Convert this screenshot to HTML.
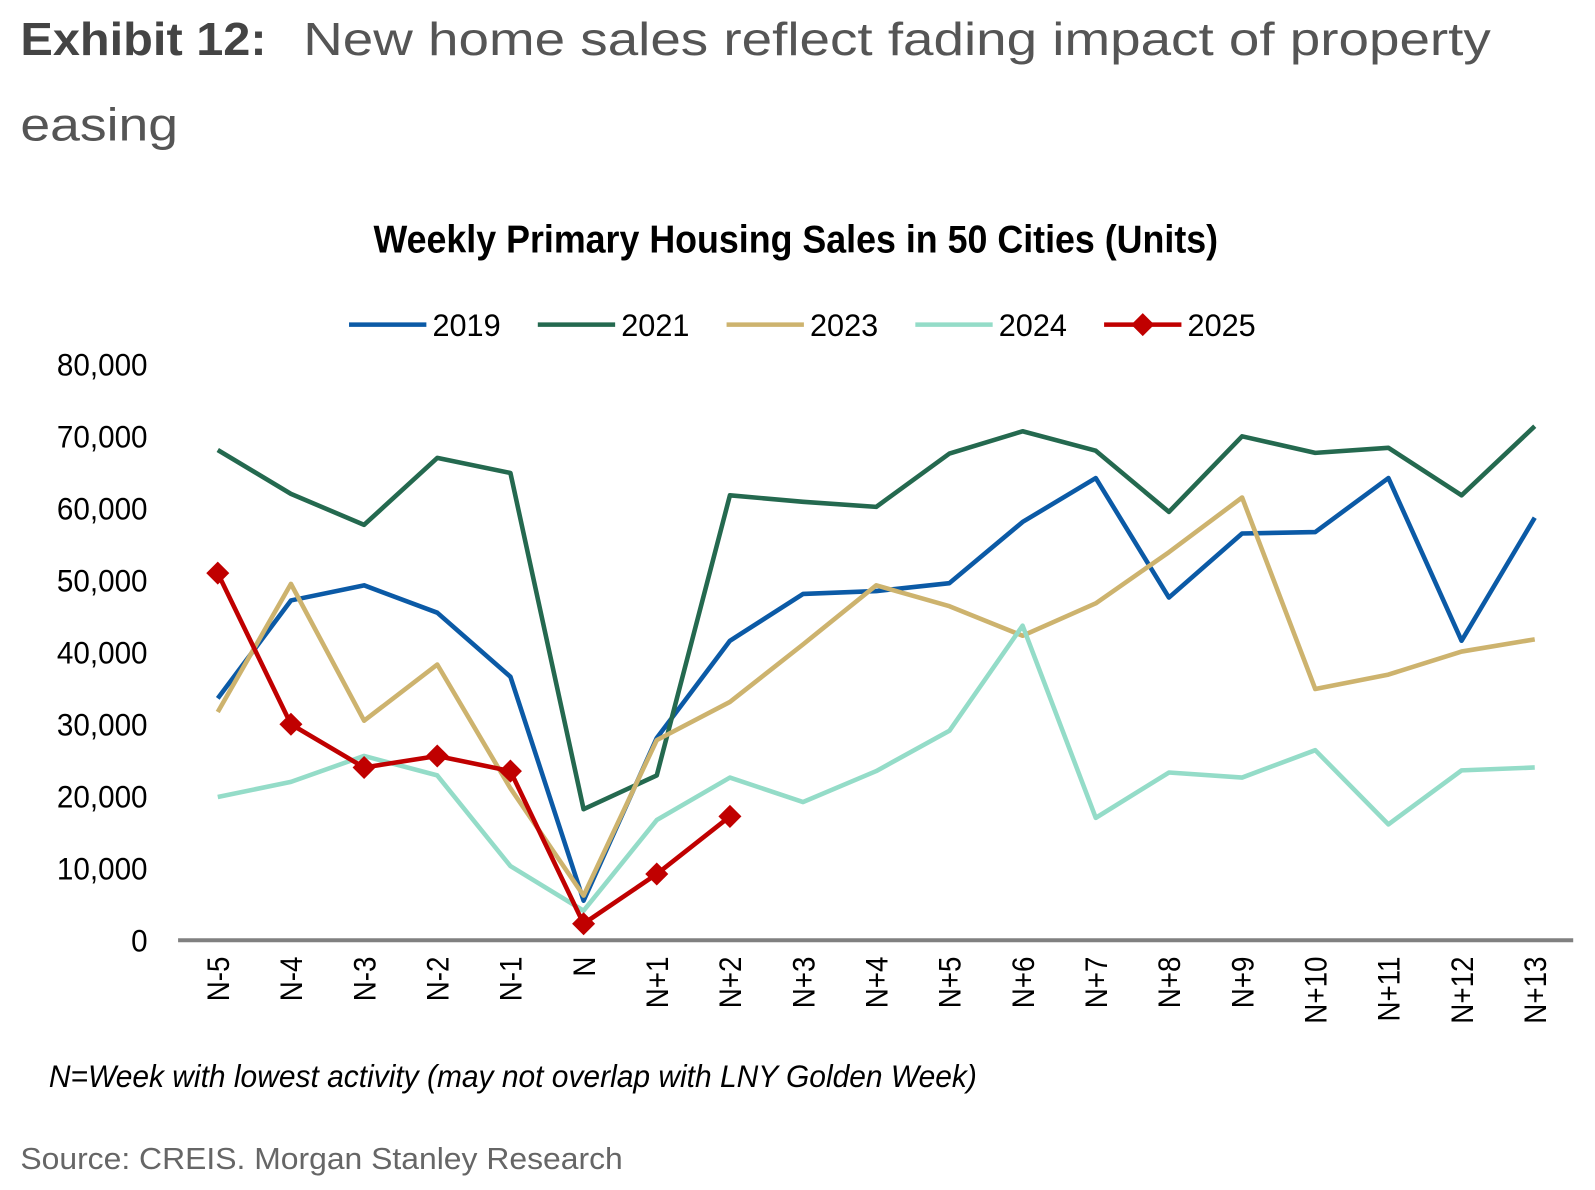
<!DOCTYPE html>
<html><head><meta charset="utf-8"><style>
body{margin:0;background:#fff;width:1595px;height:1185px;overflow:hidden;font-family:"Liberation Sans",sans-serif}
</style></head><body>
<svg width="1595" height="1185" xmlns="http://www.w3.org/2000/svg">
<g transform="scale(1.0176)">
<text x="20" y="54" font-size="46" font-weight="bold" fill="#444" textLength="242" lengthAdjust="spacingAndGlyphs">Exhibit 12:</text>
<text x="298" y="54" font-size="46" fill="#555" textLength="1167" lengthAdjust="spacingAndGlyphs">New home sales reflect fading impact of property</text>
<text x="20" y="138" font-size="46" fill="#555" textLength="155" lengthAdjust="spacingAndGlyphs">easing</text>
<text x="782" y="248" font-size="38" font-weight="bold" text-anchor="middle" textLength="830" lengthAdjust="spacingAndGlyphs" fill="#000">Weekly Primary Housing Sales in 50 Cities (Units)</text>
<g id="legend"></g>
<g id="yaxis"></g>
<g id="xaxis"></g>
<g id="series"></g>
<text x="48" y="1068" font-size="31" font-style="italic" textLength="912" lengthAdjust="spacingAndGlyphs" fill="#000">N=Week with lowest activity (may not overlap with LNY Golden Week)</text>
<text x="20" y="1149" font-size="30" fill="#666" textLength="592" lengthAdjust="spacingAndGlyphs">Source: CREIS. Morgan Stanley Research</text>
</g>
</svg>
<script>
const categories=["N-5","N-4","N-3","N-2","N-1","N","N+1","N+2","N+3","N+4","N+5","N+6","N+7","N+8","N+9","N+10","N+11","N+12","N+13"];
const yTicks=[0,10000,20000,30000,40000,50000,60000,70000,80000];
const s2019=[33600,47200,49300,45500,36600,5500,28100,41600,48100,48500,49600,58100,64200,47600,56500,56700,64200,41600,58700];
const s2021=[68100,62000,57700,67000,64900,18200,22900,61800,60900,60200,67600,70700,68000,59500,70000,67700,68400,61800,71400];
const s2023=[31700,49500,30500,38300,21100,6200,27800,33100,41100,49300,46400,42300,46800,53900,61500,34900,36900,40100,41800];
const s2024=[19900,22000,25600,22900,10300,4100,16700,22600,19200,23500,29100,43700,17000,23300,22600,26400,16100,23600,24000];
const s2025=[51000,30000,24000,25600,23500,2300,9200,17200];
const seriesNames=["2019","2021","2023","2024","2025"];
const seriesColors=["#0b5aa6","#24694f","#cdb36e","#94dcc8","#c00000"];
const NS="http://www.w3.org/2000/svg";
const x0=214,xStep=71.9,y0=924,yPer=70.75/10000;
const xs=i=>x0+i*xStep, ys=v=>y0-v*yPer;
function mk(t,a,p){const e=document.createElementNS(NS,t);for(const k in a)e.setAttribute(k,a[k]);p.appendChild(e);return e;}
function condense(t,f){const L=t.getComputedTextLength();if(L>0){t.setAttribute('textLength',(L*f).toFixed(1));t.setAttribute('lengthAdjust','spacingAndGlyphs');}}
const ya=document.getElementById('yaxis');
yTicks.forEach(v=>{const t=mk('text',{x:145,y:ys(v)+11,'font-size':31,'text-anchor':'end',fill:'#000'},ya);t.textContent=v.toLocaleString('en-US');


condense(t,0.94);});
const xa=document.getElementById('xaxis');
const ax=mk('line',{x1:175,x2:1546,y1:y0,y2:y0,stroke:'#808080','stroke-width':4},xa);


categories.forEach((c,i)=>{const t=mk('text',{transform:`translate(${xs(i)+11},940) rotate(-90)`,'font-size':31,'text-anchor':'end',fill:'#000'},xa);t.textContent=c;


condense(t,0.88);});
const sg=document.getElementById('series');
[s2019,s2021,s2023,s2024,s2025].forEach((d,k)=>{
 const p=mk('polyline',{points:d.map((v,i)=>xs(i)+','+ys(v)).join(' '),fill:'none',stroke:seriesColors[k],'stroke-width':4.5,'stroke-linejoin':'round'},sg);
 
 
 if(k===4)d.forEach((v,i)=>{const m=mk('rect',{x:xs(i)-8,y:ys(v)-8,width:16,height:16,fill:seriesColors[k],transform:`rotate(45 ${xs(i)} ${ys(v)})`},sg);
 
 });
});
const lg=document.getElementById('legend');
seriesNames.forEach((n,k)=>{const lx=343+k*185.5;
 const g=mk('g',{},lg);
 
 
 mk('line',{x1:lx,x2:lx+76,y1:319,y2:319,stroke:seriesColors[k],'stroke-width':4.5},g);
 if(k===4)mk('rect',{x:lx+30,y:311,width:16,height:16,fill:seriesColors[k],transform:`rotate(45 ${lx+38} 319)`},g);
 const t=mk('text',{x:lx+82,y:330,'font-size':31,fill:'#000',textLength:67,lengthAdjust:'spacingAndGlyphs'},g);t.textContent=n;});
</script>
</body></html>
